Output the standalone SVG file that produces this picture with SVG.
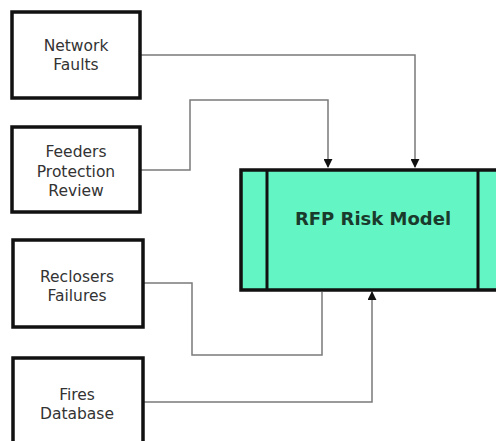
<svg xmlns="http://www.w3.org/2000/svg" width="496" height="441" viewBox="0 0 496 441">
  <style>
    .box { fill: #ffffff; stroke: #111111; stroke-width: 3.5; }
    .lbl { font-family: "DejaVu Sans", "Liberation Sans", sans-serif; font-size: 15.5px; fill: #333333; text-anchor: middle; }
    .wire { fill: none; stroke: #7a7a7a; stroke-width: 1.5; }
    .model { fill: #64f5c4; stroke: #111111; stroke-width: 3.5; }
    .title { font-family: "DejaVu Sans", "Liberation Sans", sans-serif; font-size: 18px; font-weight: bold; fill: #1a3a2c; text-anchor: middle; }
  </style>
  <defs>
    <marker id="arrow" viewBox="0 0 10 10" refX="9" refY="5" markerWidth="9" markerHeight="9" markerUnits="userSpaceOnUse" orient="auto">
      <path d="M0,0 L10,5 L0,10 z" fill="#111111"/>
    </marker>
  </defs>
  <rect width="496" height="441" fill="#ffffff"/>

  <g id="connectors">
    <path class="wire" d="M140,55 H415 V167" marker-end="url(#arrow)"/>
    <path class="wire" d="M140,170 H190 V100 H328 V167" marker-end="url(#arrow)"/>
    <path class="wire" d="M143,283 H192 V355 H322 V292"/>
    <path class="wire" d="M143,402 H372 V292" marker-end="url(#arrow)"/>
  </g>

  <g id="network-faults">
    <rect class="box" x="12" y="12" width="128" height="86"/>
    <text class="lbl" x="76" y="51">Network</text>
    <text class="lbl" x="76" y="70">Faults</text>
  </g>

  <g id="feeders-protection-review">
    <rect class="box" x="12" y="127" width="128" height="85"/>
    <text class="lbl" x="76" y="157">Feeders</text>
    <text class="lbl" x="76" y="177">Protection</text>
    <text class="lbl" x="76" y="196">Review</text>
  </g>

  <g id="reclosers-failures">
    <rect class="box" x="13" y="240" width="130" height="87"/>
    <text class="lbl" x="77" y="282">Reclosers</text>
    <text class="lbl" x="77" y="301">Failures</text>
  </g>

  <g id="fires-database">
    <rect class="box" x="13" y="358" width="130" height="100"/>
    <text class="lbl" x="77" y="400">Fires</text>
    <text class="lbl" x="77" y="419">Database</text>
  </g>

  <g id="rfp-risk-model">
    <rect class="model" x="241" y="170" width="270" height="120"/>
    <line x1="267" y1="170" x2="267" y2="290" stroke="#111111" stroke-width="3"/>
    <line x1="478" y1="170" x2="478" y2="290" stroke="#111111" stroke-width="3"/>
    <text class="title" x="373" y="225">RFP Risk Model</text>
  </g>
</svg>
